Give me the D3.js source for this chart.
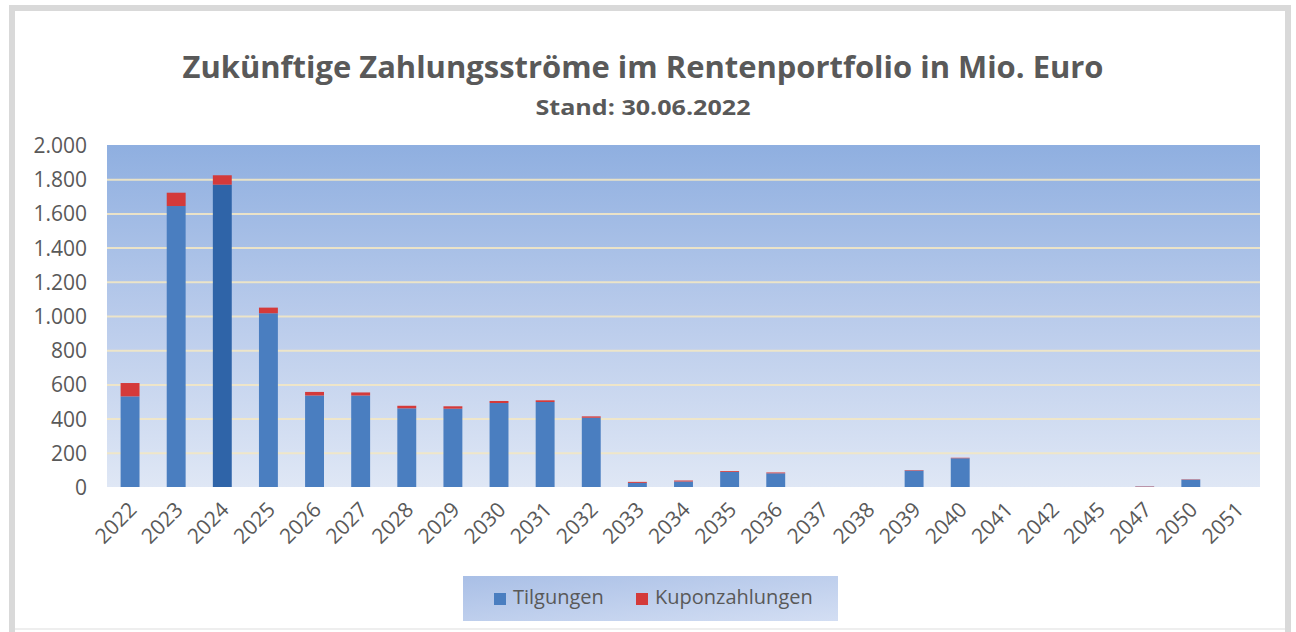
<!DOCTYPE html>
<html>
<head>
<meta charset="utf-8">
<script src="https://cdn.jsdelivr.net/npm/d3@7"></script>
<style>
  body { margin: 0; background: #fff; }
  text { font-family: "Open Sans", sans-serif; fill: #595959; }
</style>
</head>
<body>
<div id="chart"></div>
<script>
// data, in Mio. Euro
var years = ["2022","2023","2024","2025","2026","2027","2028","2029","2030","2031","2032",
             "2033","2034","2035","2036","2037","2038","2039","2040","2041","2042","2045",
             "2047","2050","2051"];
var tilgungen = [530, 1643, 1768, 1016, 535, 535, 460, 458, 491, 497, 405,
                 24, 32, 88, 80, 0, 0, 96, 168, 0, 0, 0,
                 2, 43, 0];
var kupon = [78, 78, 55, 33, 21, 18, 15, 14, 12, 10, 8,
             6, 6, 5, 5, 0, 0, 3, 3, 0, 0, 0,
             2, 2, 0];
var yTicks = [0, 200, 400, 600, 800, 1000, 1200, 1400, 1600, 1800, 2000];
var seriesNames = ["Tilgungen", "Kuponzahlungen"];

var W = 1296, H = 632;
var plot = {left: 107, right: 1260, top: 145, bottom: 487};

var fmt = d3.formatLocale({decimal: ",", thousands: ".", grouping: [3], currency: ["", "€"]}).format(",");

var svg = d3.select("#chart").append("svg")
    .attr("width", W)
    .attr("height", H);

var defs = svg.append("defs");
var bg = defs.append("linearGradient").attr("id", "plotbg")
    .attr("x1", 0).attr("y1", 0).attr("x2", 0).attr("y2", 1);
bg.append("stop").attr("offset", "0%").attr("stop-color", "#8fafe0");
bg.append("stop").attr("offset", "50%").attr("stop-color", "#b9cbeb");
bg.append("stop").attr("offset", "100%").attr("stop-color", "#dfe7f5");

var lg = defs.append("linearGradient").attr("id", "legbg")
    .attr("x1", 0).attr("y1", 0).attr("x2", 1).attr("y2", 1);
lg.append("stop").attr("offset", "0%").attr("stop-color", "#a9bfe6");
lg.append("stop").attr("offset", "100%").attr("stop-color", "#d3def3");

// outer frame
svg.append("rect")
    .attr("x", 12).attr("y", 8)
    .attr("width", 1276).attr("height", 640)
    .attr("fill", "#fff")
    .attr("stroke", "#d9d9d9")
    .attr("stroke-width", 6);
svg.append("line")
    .attr("x1", 15).attr("x2", 1285)
    .attr("y1", 629).attr("y2", 629)
    .attr("stroke", "#eeeeee").attr("stroke-width", 2);

// titles
svg.append("text")
    .attr("x", 643).attr("y", 78)
    .attr("text-anchor", "middle")
    .attr("font-size", 31).attr("font-weight", "bold")
    .attr("textLength", 921).attr("lengthAdjust", "spacingAndGlyphs")
    .text("Zukünftige Zahlungsströme im Rentenportfolio in Mio. Euro");
svg.append("text")
    .attr("x", 643).attr("y", 115)
    .attr("text-anchor", "middle")
    .attr("font-size", 21).attr("font-weight", "bold")
    .attr("textLength", 215).attr("lengthAdjust", "spacingAndGlyphs")
    .text("Stand: 30.06.2022");

// scales
var x = d3.scaleBand()
    .domain(years)
    .range([plot.left, plot.right])
    .paddingInner(0.59)
    .paddingOuter(0.295);

var y = d3.scaleLinear()
    .domain([0, 2000])
    .range([plot.bottom, plot.top]);

// plot background
svg.append("rect")
    .attr("x", plot.left).attr("y", plot.top)
    .attr("width", plot.right - plot.left)
    .attr("height", plot.bottom - plot.top)
    .attr("fill", "url(#plotbg)");

// grid
svg.append("g")
    .attr("transform", "translate(" + plot.left + ",0)")
    .call(d3.axisLeft(y).tickValues(yTicks.filter(function(d) { return d > 0 && d < 2000; }))
        .tickSize(-(plot.right - plot.left)).tickFormat(""))
    .call(function(g) {
        g.select(".domain").remove();
        g.selectAll("line").attr("stroke", "#f2e7c4").attr("stroke-width", 2).attr("opacity", 0.9);
    });

// y axis labels
svg.append("g")
    .attr("transform", "translate(" + 87 + ",0)")
    .call(d3.axisLeft(y).tickValues(yTicks).tickSize(0).tickPadding(0).tickFormat(fmt))
    .call(function(g) {
        g.select(".domain").remove();
        g.selectAll("text")
            .attr("font-size", 21)
            .attr("font-family", "'Open Sans', sans-serif")
            .attr("fill", "#4f4f4f")
            .attr("dy", "0.36em");
    });

// stacked bars
var table = years.map(function(yr, i) {
    return {year: yr, Tilgungen: tilgungen[i], Kuponzahlungen: kupon[i]};
});
var stacked = d3.stack().keys(seriesNames)(table);
var colors = {Tilgungen: "#4a7ec0", Kuponzahlungen: "#d43a3a"};

svg.append("g").selectAll("g")
    .data(stacked)
    .join("g")
    .each(function(s) {
        d3.select(this).selectAll("rect")
            .data(s)
            .join("rect")
            .attr("x", function(d) { return x(d.data.year); })
            .attr("width", x.bandwidth())
            .attr("y", function(d) { return y(d[1]); })
            .attr("height", function(d) { return y(d[0]) - y(d[1]); })
            .attr("fill", function(d) {
                if (s.key === "Tilgungen" && d.data.year === "2024") return "#2f64a8";
                return colors[s.key];
            });
    });

// x axis labels
svg.append("g")
    .attr("transform", "translate(0," + plot.bottom + ")")
    .call(d3.axisBottom(x).tickSize(0).tickPadding(0))
    .call(function(g) {
        g.select(".domain").remove();
        g.selectAll("text")
            .attr("font-size", 21)
            .attr("font-family", "'Open Sans', sans-serif")
            .attr("fill", "#404040")
            .attr("text-anchor", "end")
            .attr("dy", null)
            .attr("y", 0)
            .attr("transform", "translate(8,24) rotate(-45)");
    });

// legend
var leg = svg.append("g");
leg.append("rect")
    .attr("x", 463).attr("y", 576)
    .attr("width", 375).attr("height", 45)
    .attr("fill", "url(#legbg)");
var legItems = [{name: "Tilgungen", sx: 494, tx: 513}, {name: "Kuponzahlungen", sx: 636, tx: 655}];
legItems.forEach(function(it) {
    leg.append("rect")
        .attr("x", it.sx).attr("y", 593)
        .attr("width", 12).attr("height", 12)
        .attr("fill", colors[it.name]);
    leg.append("text")
        .attr("x", it.tx).attr("y", 604)
        .attr("font-size", 20)
        .text(it.name);
});
</script>
</body>
</html>
